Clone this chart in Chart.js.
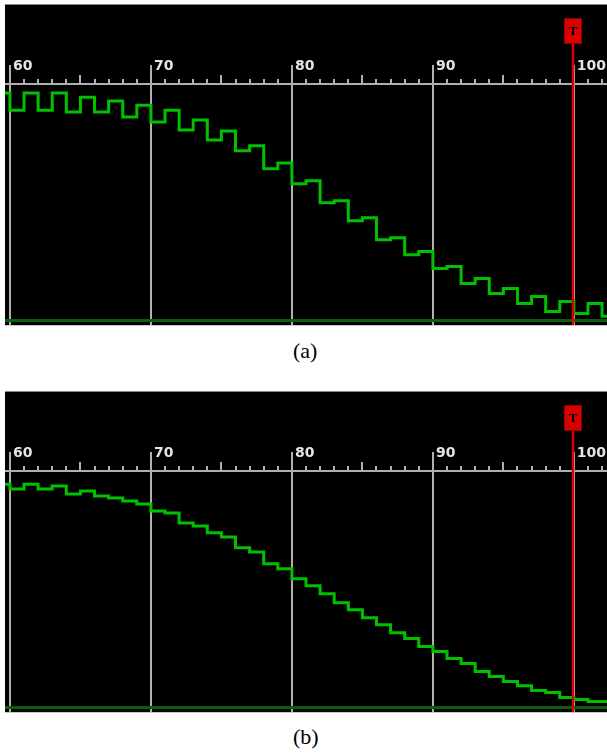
<!DOCTYPE html>
<html>
<head>
<meta charset="utf-8">
<script src="https://cdn.jsdelivr.net/npm/chart.js@4"></script>
<style>
  body { margin: 0; background: #fff; width: 607px; height: 754px; position: relative; overflow: hidden; }
  .panel { position: absolute; left: 5px; width: 602px; height: 320px; background: #000;
           border-top: 1px solid #8a8a8a; border-bottom: 1px solid #c8c8c8; }
  .panel canvas { display: block; }
  .caption { position: absolute; font-family: "Liberation Serif", "Times New Roman", serif;
             font-size: 22px; line-height: 22px; color: #000; }
</style>
</head>
<body>
<div class="panel" style="top:4px"><canvas id="chartA" width="602" height="320"></canvas></div>
<div class="caption" style="left:293px;top:340px">(a)</div>
<div class="panel" style="top:391px"><canvas id="chartB" width="602" height="320"></canvas></div>
<div class="caption" style="left:293px;top:726px">(b)</div>
<script>
// axis range and ruler labels (shared by both panels)
const xMin = 59.65, xMax = 102.35;
const majorTicks = [60, 70, 80, 90, 100];
const tMarker = 99.95;

// step edges: left edge, one step per unit, right edge
const stepX = [59.65, 60, 61, 62, 63, 64, 65, 66, 67, 68, 69, 70, 71, 72, 73, 74, 75, 76, 77, 78, 79,
               80, 81, 82, 83, 84, 85, 86, 87, 88, 89, 90, 91, 92, 93, 94, 95, 96, 97, 98, 99,
               100, 101, 102, 102.35];

// (a) level of each step
const levelsA = [100.0, 92.5, 100.0, 92.5, 100.0, 91.7, 98.2, 91.7, 96.5, 89.5, 94.7,
                 87.3, 92.5, 83.8, 88.2, 79.4, 83.3, 74.6, 76.8, 66.7, 69.3,
                 60.1, 61.4, 51.8, 52.6, 43.9, 45.2, 35.5, 36.4, 28.9, 30.3,
                 22.8, 23.7, 16.2, 18.4, 11.8, 14.0, 7.5, 10.5, 3.9, 8.3,
                 3.1, 7.5, 1.8, 1.8];

// (b) level of each step
const levelsB = [98.2, 96.1, 98.2, 96.1, 97.4, 93.9, 95.2, 93.0, 92.1, 90.8, 89.5,
                 86.4, 85.5, 81.1, 79.8, 76.8, 75.0, 70.2, 68.4, 63.2, 61.0,
                 56.6, 53.5, 50.0, 46.1, 43.0, 39.5, 36.4, 32.9, 30.3, 26.8,
                 24.6, 21.5, 19.3, 15.8, 13.6, 11.4, 9.6, 7.5, 6.6, 4.4,
                 3.5, 2.6, 2.6, 2.6];

const gridGray = '#b0b0b0';

// small ruler ticks + the red T marker
const rulerPlugin = {
    id: 'ruler',
    beforeDatasetsDraw(chart) {
        const {ctx, chartArea, scales: {x}} = chart;
        ctx.save();
        ctx.strokeStyle = gridGray;
        ctx.lineWidth = 2;
        for (let v = Math.ceil(xMin); v <= xMax; v++) {
            if (v % 10 === 0) continue;
            const px = Math.round(x.getPixelForValue(v));
            const len = v % 5 === 0 ? 9 : 5;
            ctx.beginPath();
            ctx.moveTo(px, chartArea.top);
            ctx.lineTo(px, chartArea.top - len);
            ctx.stroke();
        }
        ctx.restore();
    },
    afterDatasetsDraw(chart) {
        const {ctx, scales: {x}} = chart;
        const px = Math.round(x.getPixelForValue(tMarker));
        ctx.save();
        ctx.strokeStyle = '#e00000';
        ctx.lineWidth = 2.5;
        ctx.beginPath();
        ctx.moveTo(px, 39);
        ctx.lineTo(px, chart.height);
        ctx.stroke();
        ctx.fillStyle = '#d80000';
        ctx.fillRect(px - 9, 13, 18, 26);
        ctx.strokeStyle = '#8b0000';
        ctx.lineWidth = 1;
        ctx.strokeRect(px - 8.5, 13.5, 17, 25);
        ctx.fillStyle = '#000';
        ctx.font = 'bold 13px "Liberation Serif"';
        ctx.textAlign = 'center';
        ctx.textBaseline = 'middle';
        ctx.fillText('T', px, 27);
        ctx.restore();
    }
};

function makePanel(id, levels) {
    return new Chart(document.getElementById(id), {
        type: 'line',
        data: {
            datasets: [{
                data: stepX.map((x, i) => ({x, y: levels[i]})),
                borderColor: '#00c000',
                borderWidth: 3,
                stepped: 'before',
                pointRadius: 0
            }, {
                data: [{x: xMin, y: 0}, {x: xMax, y: 0}],
                borderColor: '#0b600b',
                borderWidth: 3,
                pointRadius: 0
            }]
        },
        options: {
            responsive: false,
            animation: false,
            devicePixelRatio: 1,
            layout: { padding: 0 },
            plugins: { legend: { display: false }, tooltip: { enabled: false } },
            scales: {
                x: {
                    type: 'linear',
                    position: 'top',
                    min: xMin,
                    max: xMax,
                    afterBuildTicks: s => { s.ticks = majorTicks.map(v => ({value: v})); },
                    afterFit: s => { s.height = 79; },
                    ticks: {
                        align: 'start',
                        labelOffset: 3,
                        padding: -10,
                        color: '#e4e4e4',
                        font: { family: 'DejaVu Sans', weight: 'bold', size: 14 },
                        callback: v => String(v)
                    },
                    grid: { color: gridGray, lineWidth: 2, tickLength: 19, tickColor: gridGray },
                    border: { color: gridGray, width: 2 }
                },
                y: { display: false, min: -2, max: 104 }
            }
        },
        plugins: [rulerPlugin]
    });
}

const chartA = makePanel('chartA', levelsA);
const chartB = makePanel('chartB', levelsB);
</script>
</body>
</html>
